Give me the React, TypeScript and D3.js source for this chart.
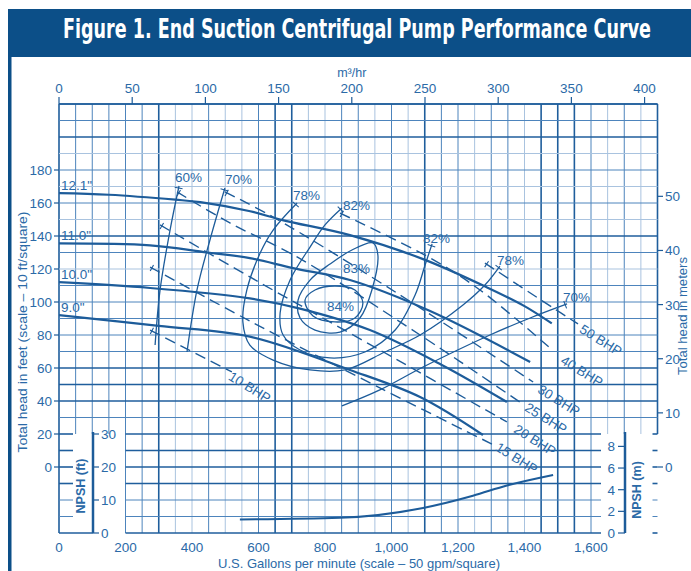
import React from "react";
import * as d3 from "d3";

// ---------------- data ----------------
const gpmTicks = [0, 200, 400, 600, 800, 1000, 1200, 1400, 1600];
const m3hTicks = [0, 50, 100, 150, 200, 250, 300, 350, 400];
const headFtTicks = [0, 20, 40, 60, 80, 100, 120, 140, 160, 180];
const headMTicks = [0, 10, 20, 30, 40, 50];
const npshFtTicks = [0, 10, 20, 30];
const npshMTicks = [0, 2, 4, 6, 8];

// impeller curves [gpm, ft]
const impellerNames = ['12.1"', '11.0"', '10.0"', '9.0"'];
const imp121 = [[0, 166], [150, 165], [350, 162], [425, 160.5], [575, 155], [675, 149.5], [875, 140.5], [1095, 126], [1286, 109], [1400, 97.5], [1482, 87]];
const imp110 = [[0, 135.5], [274, 134.3], [445, 130], [574, 126.6], [704, 120.5], [875, 113.3], [1116, 94.5], [1417, 63.6]];
const imp100 = [[0, 112], [274, 108.5], [574, 102.2], [725, 96], [935, 83], [1150, 62], [1347, 39.4]];
const imp090 = [[0, 92], [300, 85.5], [574, 79], [875, 58.8], [1086, 42.4], [1275, 19.4]];

// efficiency contours [gpm, ft]
const eff60 = [[361, 170.3], [334, 143.6], [304, 107.3], [289, 73.9]];
const eff70L = [[499, 169.1], [454, 137.6], [415, 107.3], [385, 69.7]];
const eff78 = [[716, 160], [644, 143.6], [605, 129.7], [565, 107.3], [553, 87.9], [574, 73.9], [644, 64.8], [755, 58.8], [860, 58.8], [980, 69.7], [1086, 80], [1215, 98.2], [1281, 110.3], [1326, 121.8]];
const eff82 = [[851, 157], [800, 146.7], [755, 133.3], [695, 113.3], [665, 93.3], [674, 80], [725, 70.9], [815, 66.1], [920, 69.7], [1011, 83], [1071, 104.2], [1101, 122.4], [1122, 135.2]];
const eff83 = [[944, 135.8], [959, 128.5], [941, 107.3], [905, 90.3], [845, 81.8], [770, 83], [725, 90.3], [719, 101.2], [755, 113.3], [815, 123], [881, 131.5]];
const eff84 = [[740, 101.2], [770, 107.3], [830, 109.7], [890, 107.3], [914, 99.4], [890, 90.3], [830, 87.9], [764, 91.5]];
const eff70R = [[851, 37], [965, 46.7], [1095, 60.6], [1296, 80], [1417, 90.3], [1528, 98.8]];
const effLabelText = ["60%", "70%", "78%", "82%", "83%", "84%", "82%", "78%", "70%"];
const effLabelPos = [[349, 172.7], [499, 171.5], [704, 161.8], [854, 155.8], [854, 117.6], [806, 94.5], [1095, 135.8], [1317, 122.4], [1516, 100]];

// brake horsepower lines [gpm, ft]
const bhpNames = ["10 BHP", "15 BHP", "20 BHP", "25 BHP", "30 BHP", "40 BHP", "50 BHP"];
const bhp10 = [[274, 83], [520, 57.6]];
const bhp15 = [[274, 121.2], [574, 88.5], [965, 47.9], [1302, 13.9]];
const bhp20 = [[304, 146.7], [574, 115.2], [965, 70.9], [1347, 27.3]];
const bhp25 = [[355, 166.7], [514, 147.9], [716, 127.3], [1086, 80], [1386, 39.4]];
const bhp30 = [[499, 166.7], [644, 151.5], [1026, 104.2], [1426, 51.5]];
const bhp40 = [[845, 153.9], [1116, 126.7], [1266, 107.3], [1477, 72.1]];
const bhp50 = [[1281, 123.6], [1486, 96.4], [1561, 86.7]];
const bhpLabelPos = [[574, 48.5], [1377, 5.5], [1432, 16.4], [1465, 29.7], [1504, 40.6], [1573, 58.2], [1630, 77]];

// NPSH required [gpm, ft]
const npshReq = [[544, 4.1], [845, 4.6], [1095, 7.6], [1245, 11.3], [1347, 14.4], [1486, 17.6]];

// ---------------- styles ----------------
const BLUE = "#1d5c9a";
const TXT = "#2b6aa7";
const BAR = "#0c4f88";
const FONT = "'Liberation Sans', Arial, sans-serif";
const TITLE_FONT = "'Liberation Sans Narrow', 'DejaVu Sans Condensed', 'Liberation Sans', Arial, sans-serif";
const heavyGpm = [0, 300, 650, 700, 1100, 1450, 1500, 1550, 1800];
const lightGpm = [350, 400, 500, 550, 750, 800, 950, 1050, 1250, 1400, 1650, 1750];
const heavyFt = [-40, -10, 0, 10, 20, 40, 50, 60, 140, 200, 220];
const lightFt = [120, 150, 170, 190];

export default function App() {
  const x = d3.scaleLinear().domain([0, 1800]).range([59, 657.5]);
  const y = d3.scaleLinear().domain([-40, 220]).range([533, 104]);
  const yN = d3.scaleLinear().domain([0, 30]).range([533, 434]);
  const FT_PER_M = 3.28084;
  const GPM_PER_M3H = 4.40287;

  const open = d3.line<number[]>().x(d => x(d[0])).y(d => y(d[1])).curve(d3.curveCatmullRom.alpha(0.5));
  const closed = d3.line<number[]>().x(d => x(d[0])).y(d => y(d[1])).curve(d3.curveCatmullRomClosed.alpha(0.5));
  const npshLine = d3.line<number[]>().x(d => x(d[0])).y(d => yN(d[1])).curve(d3.curveMonotoneX);

  const gridStyle = (heavy: boolean, light: boolean) =>
    heavy ? { stroke: "#1f5e9c", sw: 1.6 } : light ? { stroke: "#a9c3df", sw: 1 } : { stroke: "#4d84bc", sw: 1 };

  const vLines = d3.range(0, 1801, 50).map(g => {
    const st = gridStyle(heavyGpm.includes(g), lightGpm.includes(g));
    const short = (g >= 50 && g <= 150) || g >= 1650;
    return <line key={"v" + g} x1={x(g)} x2={x(g)} y1={y(220)} y2={short ? y(20) : y(-40)} stroke={st.stroke} strokeWidth={st.sw} />;
  });

  const hLines: any[] = [];
  d3.range(-40, 221, 10).forEach(f => {
    const st = gridStyle(heavyFt.includes(f), lightFt.includes(f));
    const yy = y(f);
    if (f >= 30) {
      hLines.push(<line key={"h" + f} x1={x(0)} x2={x(1800)} y1={yy} y2={yy} stroke={st.stroke} strokeWidth={st.sw} />);
    } else {
      hLines.push(<line key={"ha" + f} x1={x(0)} x2={f === -40 ? 93 : x(0) + 14} y1={yy} y2={yy} stroke={st.stroke} strokeWidth={st.sw} />);
      hLines.push(<line key={"hb" + f} x1={x(200)} x2={601} y1={yy} y2={yy} stroke={st.stroke} strokeWidth={st.sw} />);
      hLines.push(<line key={"hc" + f} x1={x(1800) - 5} x2={x(1800)} y1={yy} y2={yy} stroke={st.stroke} strokeWidth={st.sw} />);
    }
  });

  const tick = (pts: number[][], len = 8, key = "") => {
    const p0 = [x(pts[0][0]), y(pts[0][1])];
    const p1 = [x(pts[1][0]), y(pts[1][1])];
    const dx = p1[0] - p0[0], dy = p1[1] - p0[1];
    const L = Math.hypot(dx, dy) || 1;
    const nx = -dy / L, ny = dx / L;
    const cx = p0[0] + (dx / L) * 2, cy = p0[1] + (dy / L) * 2;
    return <line key={key} x1={cx - nx * len / 2} y1={cy - ny * len / 2} x2={cx + nx * len / 2} y2={cy + ny * len / 2} stroke={BLUE} strokeWidth={1.1} />;
  };

  const impellers = [imp121, imp110, imp100, imp090];
  const effOpen = [eff60, eff70L, eff78, eff82, eff70R];
  const effClosed = [eff83, eff84];
  const bhps = [bhp10, bhp15, bhp20, bhp25, bhp30, bhp40, bhp50];
  const effTickArms = [eff60, eff70L, eff78, eff82, [...eff82].reverse(), [...eff78].reverse(), [...eff70R].reverse()];

  return (
    <svg width={691} height={571} viewBox="0 0 691 571" style={{ display: "block", position: "absolute", left: 0, top: 0, background: "#fff" }}>
      <rect x={0} y={0} width={691} height={571} fill="#fff" />
      {/* title bar */}
      <rect x={8} y={9} width={683} height={48} fill={BAR} />
      <rect x={8} y={56} width={3.5} height={515} fill={BAR} />
      <text transform="translate(357,38) scale(0.8,1)" textAnchor="middle" fill="#fff" fontFamily={TITLE_FONT} fontWeight="bold" fontSize={26} textLength={735} lengthAdjust="spacingAndGlyphs">
        Figure 1. End Suction Centrifugal Pump Performance Curve
      </text>

      {/* grid */}
      <g>{vLines}</g>
      <g>{hLines}</g>
      <line x1={x(0)} x2={x(1800)} y1={y(220)} y2={y(220)} stroke="#1f5e9c" strokeWidth={1.6} />

      {/* top axis m3/hr */}
      <g fontFamily={FONT} fontSize={13.5} fill={TXT}>
        {m3hTicks.map(m => (
          <g key={"m" + m}>
            <line x1={x(m * GPM_PER_M3H)} x2={x(m * GPM_PER_M3H)} y1={97} y2={y(220)} stroke={BLUE} strokeWidth={1.2} />
            <text x={x(m * GPM_PER_M3H)} y={93} textAnchor="middle">{m}</text>
          </g>
        ))}
        <text x={x(200 * GPM_PER_M3H)} y={77} textAnchor="middle" fontSize={12.5}>m³/hr</text>
      </g>

      {/* left axis ft */}
      <g fontFamily={FONT} fontSize={13.5} fill={TXT}>
        {headFtTicks.map(f => (
          <g key={"f" + f}>
            <line x1={54} x2={x(0)} y1={y(f)} y2={y(f)} stroke={BLUE} strokeWidth={1.2} />
            <text x={52} y={y(f) + 5} textAnchor="end">{f}</text>
          </g>
        ))}
        <text transform={`translate(27,332) rotate(-90)`} textAnchor="middle" fontSize={13} textLength={241} lengthAdjust="spacingAndGlyphs">
          Total head in feet (scale – 10 ft/square)
        </text>
      </g>

      {/* right axis meters */}
      <g fontFamily={FONT} fontSize={13.5} fill={TXT}>
        {headMTicks.map(m => (
          <g key={"rm" + m}>
            <line x1={x(1800)} x2={663} y1={y(m * FT_PER_M)} y2={y(m * FT_PER_M)} stroke={BLUE} strokeWidth={1.2} />
            <text x={665} y={y(m * FT_PER_M) + 5}>{m}</text>
          </g>
        ))}
        <text transform={`translate(686.5,316) rotate(-90)`} textAnchor="middle" fontSize={12} textLength={118} lengthAdjust="spacingAndGlyphs">
          Total head in meters
        </text>
      </g>

      {/* bottom axis gpm */}
      <g fontFamily={FONT} fontSize={13.5} fill={TXT}>
        {gpmTicks.map(g => (
          <text key={"g" + g} x={x(g)} y={552} textAnchor="middle">{d3.format(",")(g)}</text>
        ))}
        <text x={359} y={568} textAnchor="middle" fontSize={13.5} textLength={282} lengthAdjust="spacingAndGlyphs">
          U.S. Gallons per minute (scale – 50 gpm/square)
        </text>
      </g>

      {/* NPSH ft axis (left) */}
      <g fontFamily={FONT} fontSize={13.5} fill={TXT}>
        <line x1={93} x2={93} y1={yN(30) - 2} y2={yN(0)} stroke={BLUE} strokeWidth={2.5} />
        {npshFtTicks.map(v => (
          <g key={"nf" + v}>
            <line x1={93} x2={99} y1={yN(v)} y2={yN(v)} stroke={BLUE} strokeWidth={1.2} />
            <text x={101} y={yN(v) + 5}>{v}</text>
          </g>
        ))}
        <text transform={`translate(85,486) rotate(-90)`} textAnchor="middle" fontWeight="bold" fontSize={12.5}>NPSH (ft)</text>
      </g>

      {/* NPSH m axis (right) */}
      <g fontFamily={FONT} fontSize={13.5} fill={TXT}>
        <line x1={625} x2={625} y1={yN(30) - 2} y2={yN(0)} stroke={BLUE} strokeWidth={2.5} />
        {npshMTicks.map(v => (
          <g key={"nm" + v}>
            <line x1={618} x2={625} y1={yN(v * FT_PER_M)} y2={yN(v * FT_PER_M)} stroke={BLUE} strokeWidth={1.2} />
            <text x={615} y={yN(v * FT_PER_M) + 5} textAnchor="end">{v}</text>
          </g>
        ))}
        <text transform={`translate(641,490) rotate(-90)`} textAnchor="middle" fontWeight="bold" fontSize={12.5}>NPSH (m)</text>
      </g>

      {/* BHP dashed lines */}
      <g fill="none" stroke={BLUE} strokeWidth={1.4} strokeDasharray="11,6">
        {bhps.map((b, i) => <path key={"b" + i} d={open(b as any) || ""} />)}
      </g>
      <g>{bhps.map((b, i) => tick(b, 7, "bt" + i))}</g>
      <g fontFamily={FONT} fontSize={13.5} fill={TXT}>
        {bhpNames.map((n, i) => (
          <text key={"bl" + i} transform={`translate(${x(bhpLabelPos[i][0])},${y(bhpLabelPos[i][1])}) rotate(32)`} textAnchor="middle" dy={5}>{n}</text>
        ))}
      </g>

      {/* efficiency contours */}
      <g fill="none" stroke={BLUE} strokeWidth={1.3}>
        {effOpen.map((e, i) => <path key={"e" + i} d={open(e as any) || ""} />)}
        {effClosed.map((e, i) => <path key={"ec" + i} d={closed(e as any) || ""} />)}
      </g>
      <g>{effTickArms.map((e, i) => tick(e, 8, "et" + i))}</g>
      <g fontFamily={FONT} fontSize={13.5} fill={TXT}>
        {effLabelText.map((t, i) => (
          <text key={"el" + i} x={x(effLabelPos[i][0])} y={y(effLabelPos[i][1])}>{t}</text>
        ))}
      </g>

      {/* impeller curves */}
      <g fill="none" stroke={BLUE} strokeWidth={2.2}>
        {impellers.map((c, i) => <path key={"i" + i} d={open(c as any) || ""} />)}
      </g>
      <g fontFamily={FONT} fontSize={13.5} fill={TXT}>
        {impellers.map((c, i) => (
          <text key={"il" + i} x={x(c[0][0]) + 2} y={y(c[0][1]) - 3}>{impellerNames[i]}</text>
        ))}
      </g>

      {/* NPSH required curve */}
      <path d={npshLine(npshReq as any) || ""} fill="none" stroke={BLUE} strokeWidth={2} />
    </svg>
  );
}
